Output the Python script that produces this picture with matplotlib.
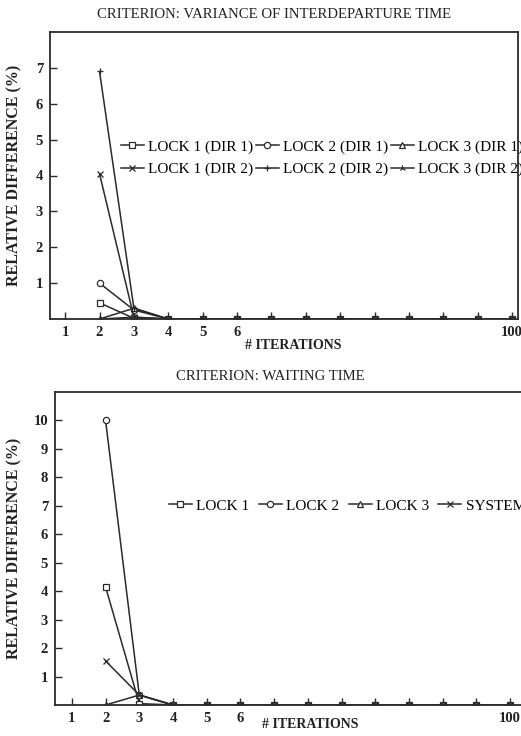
import matplotlib.pyplot as plt

plt.rcParams['font.family'] = ['Liberation Serif', 'DejaVu Serif']

# --- data --- #
positions = list(range(1, 15))  # evenly spaced iteration slots
tick_labels = ['1', '2', '3', '4', '5', '6', '', '', '', '', '', '', '', '100']
x_data = list(range(2, 15))
zeros = [0.0] * 11

# criterion: variance of interdeparture time
lock1_dir1 = [0.45, 0.02] + zeros
lock2_dir1 = [1.0, 0.25] + zeros
lock3_dir1 = [0.0, 0.3] + zeros
lock1_dir2 = [4.05, 0.05] + zeros
lock2_dir2 = [6.9, 0.3] + zeros
lock3_dir2 = [0.0, 0.05] + zeros

# criterion: waiting time
lock1 = [4.15, 0.05] + zeros
lock2 = [10.0, 0.35] + zeros
lock3 = [0.0, 0.35] + zeros
system = [1.55, 0.35] + zeros

ink = '#2b2b2b'
line_kw = dict(color=ink, lw=1.1, ms=4.5, mew=0.9, mfc='white', mec=ink)

fig = plt.figure(figsize=(5.21, 7.36), dpi=100)


def style_axis(ax, xlim, ylim, yticks):
    ax.set_xlim(*xlim)
    ax.set_ylim(*ylim)
    ax.set_xticks(positions, tick_labels)
    ax.set_yticks(yticks)
    ax.tick_params(direction='in', length=5, width=1, colors=ink, labelsize=10.5, pad=5)
    for lbl in ax.get_xticklabels() + ax.get_yticklabels():
        lbl.set_fontweight('bold')
        lbl.set_color('#222222')
    for s in ax.spines.values():
        s.set_linewidth(1.3)
        s.set_color(ink)
    ax.set_xlabel('# ITERATIONS', fontsize=10, fontweight='bold', color='#222222')
    ax.set_ylabel('RELATIVE DIFFERENCE (%)', fontsize=11.5, fontweight='bold', color='#222222')


# --- top chart --- #
ax1 = fig.add_axes([50 / 521, 1 - 319 / 736, 468 / 521, 287 / 736])
h11, = ax1.plot(x_data, lock1_dir1, marker='s', label='LOCK 1 (DIR 1)', **line_kw)
h21, = ax1.plot(x_data, lock2_dir1, marker='o', label='LOCK 2 (DIR 1)', **line_kw)
h31, = ax1.plot(x_data, lock3_dir1, marker='^', label='LOCK 3 (DIR 1)', **line_kw)
h12, = ax1.plot(x_data, lock1_dir2, marker='x', label='LOCK 1 (DIR 2)', **line_kw)
h22, = ax1.plot(x_data, lock2_dir2, marker='+', label='LOCK 2 (DIR 2)', **line_kw)
h32, = ax1.plot(x_data, lock3_dir2, marker='2', label='LOCK 3 (DIR 2)', **line_kw)
style_axis(ax1, (0.56, 14.17), (0, 8), range(1, 8))
ax1.xaxis.set_label_coords(0.52, -0.07)
ax1.yaxis.set_label_coords(-0.06, 0.5)
ax1.legend(handles=[h11, h12, h21, h22, h31, h32], ncol=3, frameon=False,
           loc='upper left', bbox_to_anchor=(121 / 521, 1 - 140 / 736),
           bbox_transform=fig.transFigure, borderpad=0, borderaxespad=0,
           fontsize=11, handlelength=1.5, handletextpad=0.3,
           columnspacing=0.15, labelspacing=0.55)
fig.text(274 / 521, 1 - 14 / 736, 'CRITERION: VARIANCE OF INTERDEPARTURE TIME',
         ha='center', va='center', fontsize=10.6, color='#222222')

# --- bottom chart --- #
ax2 = fig.add_axes([55 / 521, 1 - 705 / 736, 472 / 521, 313 / 736])
ax2.plot(x_data, lock1, marker='s', label='LOCK 1', **line_kw)
ax2.plot(x_data, lock2, marker='o', label='LOCK 2', **line_kw)
ax2.plot(x_data, lock3, marker='^', label='LOCK 3', **line_kw)
ax2.plot(x_data, system, marker='x', label='SYSTEM', **line_kw)
style_axis(ax2, (0.5, 14.5), (0, 11), range(1, 11))
ax2.xaxis.set_label_coords(0.54, -0.04)
ax2.yaxis.set_label_coords(-0.07, 0.5)
ax2.legend(ncol=4, frameon=False, loc='upper left',
           bbox_to_anchor=(169 / 521, 1 - 499 / 736), bbox_transform=fig.transFigure,
           borderpad=0, borderaxespad=0, fontsize=11, handlelength=1.5,
           handletextpad=0.3, columnspacing=0.6)
fig.text(270 / 521, 1 - 376 / 736, 'CRITERION: WAITING TIME',
         ha='center', va='center', fontsize=10.6, color='#222222')

fig.savefig('out.png', dpi=100)
